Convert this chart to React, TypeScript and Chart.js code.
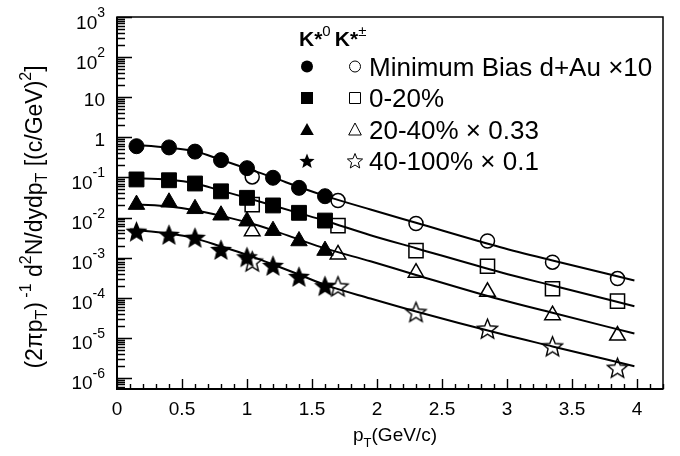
import React, { useEffect, useRef } from 'react';
import { Chart, registerables } from 'chart.js';

Chart.register(...registerables);

// pT bins (GeV/c)
const PT_KSTAR0 = [0.15, 0.4, 0.6, 0.8, 1.0, 1.2, 1.4, 1.6];
const PT_KSTARPM = [1.04, 1.7, 2.3, 2.85, 3.35, 3.85];

// K*0 (filled markers)
const K0_MINBIAS = [0.6, 0.56, 0.44, 0.27, 0.17, 0.098, 0.055, 0.034];
const K0_CENT0020 = [0.089, 0.085, 0.0705, 0.045, 0.031, 0.02, 0.0131, 0.0084];
const K0_CENT2040 = [0.021, 0.024, 0.0165, 0.0114, 0.0081, 0.0047, 0.0026, 0.0015];
const K0_CENT40100 = [0.00455, 0.0038, 0.0032, 0.0016, 0.00105, 0.00064, 0.00034, 0.0002];

// K*± (open markers)
const KPM_MINBIAS = [0.103, 0.0265, 0.0071, 0.0026, 0.00077, 0.0003];
const KPM_CENT0020 = [0.021, 0.0063, 0.0015, 0.00061, 0.000167, 0.000082];
const KPM_CENT2040 = [0.00455, 0.0012, 0.00042, 0.00014, 0.0000366, 0.0000114];
const KPM_CENT40100 = [0.00081, 0.000194, 0.0000445, 0.000017, 0.0000062, 0.0000018];

// fit curves
const FIT_PT = [0.1, 0.4, 0.6, 0.8, 1.0, 1.2, 1.4, 1.6, 1.95, 2.3, 2.95, 3.35, 3.98];
const FIT_PT_2040 = [0.16, 0.4, 0.6, 0.8, 1.0, 1.2, 1.4, 1.6, 1.95, 2.3, 2.95, 3.35, 3.98];
const FIT_MINBIAS = [0.66, 0.55, 0.447, 0.275, 0.166, 0.1, 0.0575, 0.0347, 0.0158, 0.0074, 0.00182, 0.00085, 0.00027];
const FIT_CENT0020 = [0.0955, 0.087, 0.0708, 0.0468, 0.0309, 0.02, 0.0129, 0.0083, 0.00363, 0.00172, 0.000433, 0.000201, 0.0000614];
const FIT_CENT2040 = [0.0212, 0.0188, 0.0151, 0.011, 0.00759, 0.00479, 0.00282, 0.0017, 0.00081, 0.00037, 0.00009, 0.000042, 0.0000128];
const FIT_CENT40100 = [0.005, 0.00398, 0.00302, 0.0019, 0.00117, 0.000676, 0.00038, 0.000209, 0.0000955, 0.0000453, 0.0000126, 0.0000061, 0.00000196];

// axes
const X_MIN = 0;
const X_MAX = 4.2;
const Y_MIN = 5.3e-7;
const Y_MAX = 1000;
const X_TICK_VALUES = [0, 0.5, 1, 1.5, 2, 2.5, 3, 3.5, 4];
const X_TICK_LABELS = ['0', '0.5', '1', '1.5', '2', '2.5', '3', '3.5', '4'];
const Y_TICK_VALUES = [1e3, 1e2, 1e1, 1, 1e-1, 1e-2, 1e-3, 1e-4, 1e-5, 1e-6];
const Y_TICK_BASES = ['10', '10', '10', '1', '10', '10', '10', '10', '10', '10'];
const Y_TICK_EXPS = ['3', '2', '', '', '-1', '-2', '-3', '-4', '-5', '-6'];

const LEGEND_LABELS = ['Minimum Bias d+Au \u00d710', '0-20%', '20-40% \u00d7 0.33', '40-100% \u00d7 0.1'];

const FONT = '"Liberation Sans", Arial, Helvetica, sans-serif';

type Seg = { t: string; size: number; dy?: number; bold?: boolean };

function segWidth(ctx: CanvasRenderingContext2D, segs: Seg[]) {
  let w = 0;
  for (const s of segs) {
    ctx.font = `${s.bold ? 'bold ' : ''}${s.size}px ${FONT}`;
    w += ctx.measureText(s.t).width;
  }
  return w;
}

function drawSegs(ctx: CanvasRenderingContext2D, segs: Seg[], x: number, y: number, align: 'left' | 'center' | 'right') {
  const w = segWidth(ctx, segs);
  let cx = align === 'left' ? x : align === 'center' ? x - w / 2 : x - w;
  ctx.textAlign = 'left';
  ctx.textBaseline = 'alphabetic';
  for (const s of segs) {
    ctx.font = `${s.bold ? 'bold ' : ''}${s.size}px ${FONT}`;
    ctx.fillText(s.t, cx, y + (s.dy || 0));
    cx += ctx.measureText(s.t).width;
  }
}

function starPath(ctx: CanvasRenderingContext2D, cx: number, cy: number, R: number) {
  ctx.beginPath();
  for (let i = 0; i < 10; i++) {
    const r = i % 2 === 0 ? R : R * 0.44;
    const a = -Math.PI / 2 + (i * Math.PI) / 5;
    ctx.lineTo(cx + r * Math.cos(a), cy + r * Math.sin(a));
  }
  ctx.closePath();
}

function makeStar(R: number, filled: boolean, lw: number) {
  const s = Math.ceil(2 * R + 4);
  const c = document.createElement('canvas');
  c.width = s;
  c.height = s;
  const g = c.getContext('2d')!;
  starPath(g, s / 2, s / 2 + R * 0.1, R);
  if (filled) {
    g.fillStyle = '#000';
    g.fill();
  } else {
    g.lineWidth = lw;
    g.strokeStyle = '#000';
    g.lineJoin = 'miter';
    g.stroke();
  }
  return c;
}

function legendMarker(ctx: CanvasRenderingContext2D, kind: string, filled: boolean, x: number, y: number) {
  ctx.save();
  ctx.fillStyle = '#000';
  ctx.strokeStyle = '#000';
  ctx.lineWidth = 1;
  ctx.beginPath();
  if (kind === 'circle') {
    ctx.arc(x, y, filled ? 6 : 5.5, 0, Math.PI * 2);
  } else if (kind === 'rect') {
    const h = filled ? 6 : 5.5;
    ctx.rect(x - h, y - h, 2 * h, 2 * h);
  } else if (kind === 'triangle') {
    const w = filled ? 6.8 : 6.3;
    ctx.moveTo(x, y - 6.5);
    ctx.lineTo(x + w, y + 5.5);
    ctx.lineTo(x - w, y + 5.5);
    ctx.closePath();
  } else {
    starPath(ctx, x, y + 0.5, 8);
  }
  if (filled) ctx.fill();
  else ctx.stroke();
  ctx.restore();
}

const framePlugin = {
  id: 'rootFrame',
  afterDraw(chart: any) {
    const ctx: CanvasRenderingContext2D = chart.ctx;
    const { left, right, top, bottom } = chart.chartArea;
    const xs = chart.scales.x;
    const ys = chart.scales.y;
    ctx.save();
    ctx.strokeStyle = '#000';
    ctx.fillStyle = '#000';

    // frame
    ctx.lineWidth = 1.5;
    ctx.strokeRect(left, top, right - left, bottom - top);
    ctx.lineWidth = 2;
    ctx.beginPath();
    ctx.moveTo(left, top);
    ctx.lineTo(left, bottom);
    ctx.lineTo(right, bottom);
    ctx.stroke();

    // x ticks
    ctx.lineWidth = 1.4;
    ctx.beginPath();
    for (let i = 0; i <= Math.round((X_MAX - X_MIN) * 10); i++) {
      const v = X_MIN + i / 10;
      const px = Math.round(xs.getPixelForValue(v)) + 0.5;
      const major = i % 5 === 0;
      ctx.moveTo(px, bottom);
      ctx.lineTo(px, bottom - (major ? 10 : 5));
    }
    ctx.stroke();

    // y ticks (log)
    ctx.beginPath();
    for (let n = -7; n <= 3; n++) {
      for (let k = 1; k <= 9; k++) {
        const v = k * Math.pow(10, n);
        if (v < Y_MIN || v > Y_MAX * 1.0001) continue;
        const py = Math.round(ys.getPixelForValue(v)) + 0.5;
        ctx.moveTo(left, py);
        ctx.lineTo(left + (k === 1 ? 15 : 8), py);
      }
    }
    ctx.stroke();

    // x tick labels
    ctx.font = `19px ${FONT}`;
    ctx.textAlign = 'center';
    ctx.textBaseline = 'middle';
    X_TICK_VALUES.forEach((v, i) => {
      ctx.fillText(X_TICK_LABELS[i], xs.getPixelForValue(v), 410);
    });

    // y tick labels
    Y_TICK_VALUES.forEach((v, i) => {
      const py = ys.getPixelForValue(v);
      const exp = Y_TICK_EXPS[i];
      const xr = 105;
      if (exp) {
        drawSegs(ctx, [
          { t: Y_TICK_BASES[i], size: 19, dy: 11.5 },
          { t: exp, size: 14, dy: 0 },
        ], xr, py, 'right');
      } else {
        drawSegs(ctx, [{ t: Y_TICK_BASES[i], size: 19, dy: 9 }], xr, py, 'right');
      }
    });

    // x title
    drawSegs(ctx, [
      { t: 'p', size: 19 },
      { t: 'T', size: 13, dy: 6 },
      { t: '(GeV/c)', size: 19 },
    ], 395, 441, 'center');

    // y title
    ctx.save();
    ctx.translate(42, 217);
    ctx.rotate(-Math.PI / 2);
    drawSegs(ctx, [
      { t: '(2\u03c0p', size: 23 },
      { t: 'T', size: 16, dy: 5 },
      { t: ')', size: 23 },
      { t: ' -1', size: 16, dy: -11 },
      { t: ' d', size: 23 },
      { t: '2', size: 16, dy: -11 },
      { t: 'N/dydp', size: 23 },
      { t: 'T', size: 16, dy: 5 },
      { t: ' [(c/GeV)', size: 23 },
      { t: '2', size: 16, dy: -11 },
      { t: ']', size: 23 },
    ], 0, 0, 'center');
    ctx.restore();

    // legend header
    drawSegs(ctx, [
      { t: 'K*', size: 21, bold: true },
      { t: '0', size: 15, dy: -10 },
      { t: ' ', size: 15 },
      { t: 'K*', size: 21, bold: true },
      { t: '\u00b1', size: 15, dy: -10 },
    ], 299, 46, 'left');

    // legend rows
    const kinds = ['circle', 'rect', 'triangle', 'star'];
    const rowY = [66.5, 98, 129.5, 161];
    kinds.forEach((k, i) => {
      legendMarker(ctx, k, true, 307, rowY[i]);
      legendMarker(ctx, k, false, 355, rowY[i]);
      ctx.font = `26px ${FONT}`;
      ctx.textAlign = 'left';
      ctx.textBaseline = 'alphabetic';
      ctx.fillText(LEGEND_LABELS[i], 369, rowY[i] + 9);
    });

    ctx.restore();
  },
};

function pts(xs: number[], ys: number[]) {
  return xs.map((x, i) => ({ x, y: ys[i] }));
}

export default function App() {
  const ref = useRef<HTMLCanvasElement>(null);
  useEffect(() => {
    if (!ref.current) return;
    const starFilled = makeStar(11.5, true, 1);
    const starOpen = makeStar(10.5, false, 1.4);

    const filled = (data: number[], style: any, r: number) => ({
      data: pts(PT_KSTAR0, data),
      showLine: false,
      pointStyle: style,
      pointRadius: r,
      pointBackgroundColor: '#000',
      pointBorderColor: '#000',
      pointBorderWidth: 1,
    });
    const open = (data: number[], style: any, r: number) => ({
      data: pts(PT_KSTARPM, data),
      showLine: false,
      pointStyle: style,
      pointRadius: r,
      pointBackgroundColor: 'rgba(0,0,0,0)',
      pointBorderColor: '#000',
      pointBorderWidth: 1.5,
    });
    const fit = (xs: number[], data: number[]) => ({
      data: pts(xs, data),
      showLine: true,
      pointRadius: 0,
      borderColor: '#000',
      borderWidth: 2,
      cubicInterpolationMode: 'monotone',
      fill: false,
    });

    const chart = new Chart(ref.current, {
      type: 'scatter',
      data: {
        datasets: [
          filled(K0_MINBIAS, 'circle', 7.5),
          filled(K0_CENT0020, 'rect', 10.5),
          filled(K0_CENT2040, 'triangle', 9.5),
          filled(K0_CENT40100, starFilled, 11),
          open(KPM_MINBIAS, 'circle', 7),
          open(KPM_CENT0020, 'rect', 10),
          open(KPM_CENT2040, 'triangle', 9),
          open(KPM_CENT40100, starOpen, 10),
          fit(FIT_PT, FIT_MINBIAS),
          fit(FIT_PT, FIT_CENT0020),
          fit(FIT_PT_2040, FIT_CENT2040),
          fit(FIT_PT, FIT_CENT40100),
        ] as any,
      },
      options: {
        responsive: false,
        animation: false,
        devicePixelRatio: 1,
        events: [],
        layout: { padding: { left: 117, right: 17, top: 17, bottom: 67 } },
        plugins: { legend: { display: false }, tooltip: { enabled: false } },
        scales: {
          x: { type: 'linear', min: X_MIN, max: X_MAX, display: false },
          y: { type: 'logarithmic', min: Y_MIN, max: Y_MAX, display: false },
        },
      } as any,
      plugins: [framePlugin],
    });
    return () => chart.destroy();
  }, []);

  return (
    <div style={{ position: 'fixed', left: 0, top: 0, width: 680, height: 456, background: '#fff' }}>
      <canvas ref={ref} width={680} height={456} style={{ display: 'block', width: 680, height: 456 }} />
    </div>
  );
}
